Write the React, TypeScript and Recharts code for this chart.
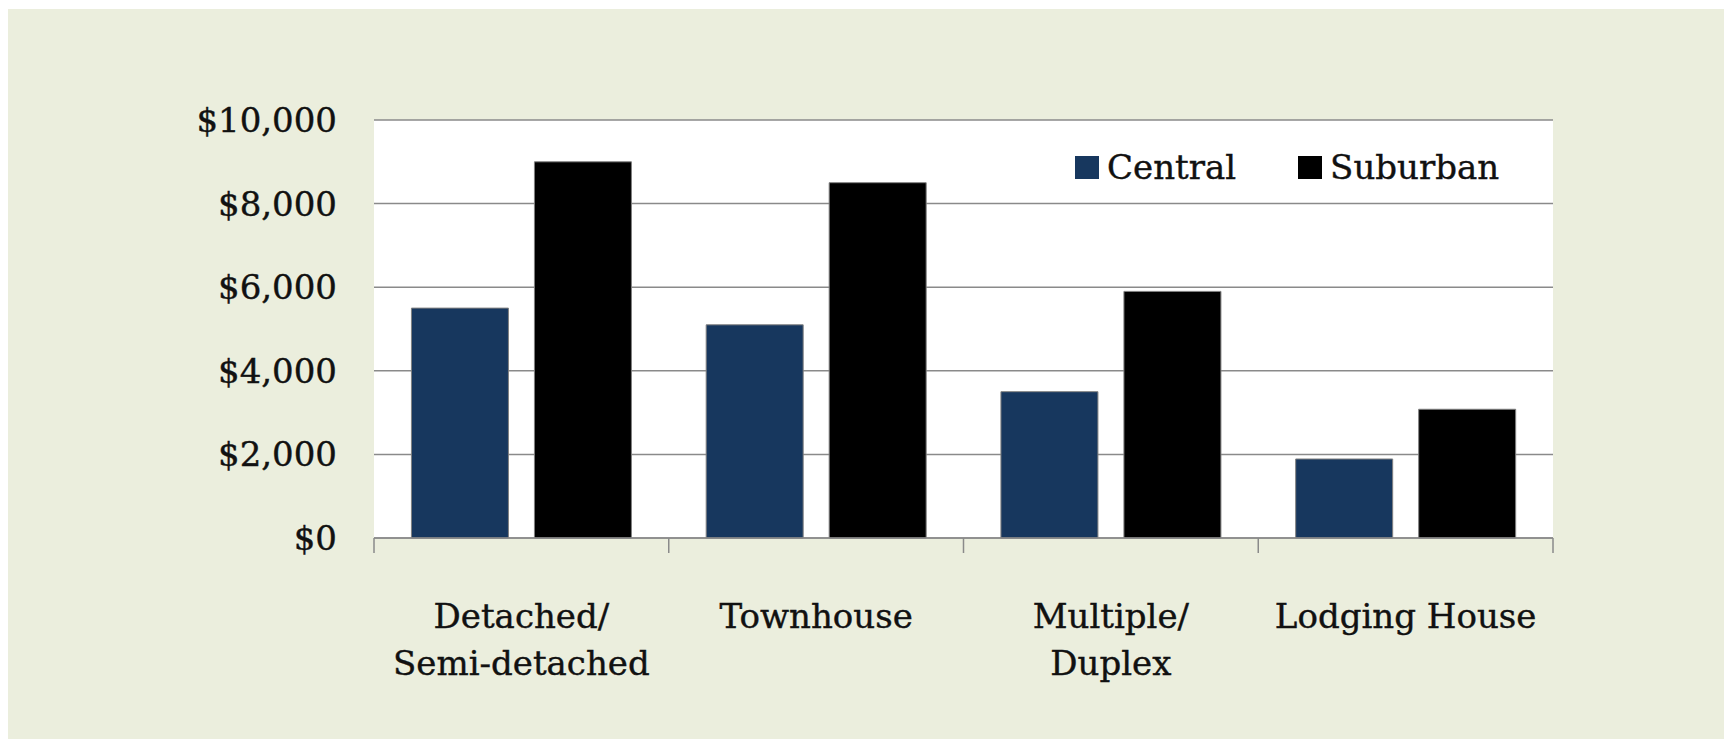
import React from 'react';
import { BarChart, Bar, XAxis, YAxis, CartesianGrid, Legend } from 'recharts';

// ---- data ----
const categories = ['Detached/\nSemi-detached', 'Townhouse', 'Multiple/\nDuplex', 'Lodging House'];
const centralValues = [5500, 5100, 3500, 1890];
const suburbanValues = [9000, 8500, 5900, 3080];
const yTicks = [0, 2000, 4000, 6000, 8000, 10000];
const seriesNames = ['Central', 'Suburban'];

const data = categories.map((c, i) => ({
  category: c,
  central: centralValues[i],
  suburban: suburbanValues[i],
}));

// ---- styles ----
const FONT = '"DejaVu Serif", serif';
const TEXT = '#111111';
const GRID = '#8a8a8a';
const BG = '#EBEEDD';
const CENTRAL = '#17375E';
const SUBURBAN = '#000000';

const PLOT_W = 1179;

const fmt = (v: number) => '$' + v.toLocaleString('en-US');

const CategoryTick = (props: any) => {
  const { x, y, payload, width, visibleTicksCount, index } = props;
  const count = visibleTicksCount || categories.length;
  const step = typeof width === 'number' && width > 0 ? width / count : PLOT_W / categories.length;
  const lines = String(payload.value).split('\n');
  return (
    <g>
      <line x1={x - step / 2} x2={x - step / 2} y1={y} y2={y + 15} stroke={GRID} strokeWidth={1.5} />
      {index === count - 1 && (
        <line x1={x + step / 2} x2={x + step / 2} y1={y} y2={y + 15} stroke={GRID} strokeWidth={1.5} />
      )}
      <text
        x={x}
        y={y + 90}
        textAnchor="middle"
        fontFamily={FONT}
        fontSize={34}
        fill={TEXT}
        stroke={TEXT}
        strokeWidth={0.4}
      >
        {lines.map((l, i) => (
          <tspan key={i} x={x} dy={i === 0 ? 0 : 47}>
            {l}
          </tspan>
        ))}
      </text>
    </g>
  );
};

const LegendContent = (props: any) => {
  const payload = props.payload || [];
  return (
    <div style={{ display: 'flex', flexDirection: 'row', alignItems: 'center' }}>
      {payload.map((p: any, i: number) => (
        <div
          key={i}
          style={{
            display: 'flex',
            alignItems: 'center',
            marginRight: i === 0 ? 62 : 0,
          }}
        >
          <span
            style={{
              display: 'inline-block',
              width: 24,
              height: 23,
              background: p.color,
              marginRight: 8,
            }}
          />
          <span
            style={{
              fontFamily: FONT,
              fontSize: 34,
              lineHeight: '34px',
              color: TEXT,
              whiteSpace: 'nowrap',
              WebkitTextStroke: '0.4px #111111',
            }}
          >
            {p.value}
          </span>
        </div>
      ))}
    </div>
  );
};

export default function App() {
  return (
    <div style={{ position: 'absolute', left: 0, top: 0, width: 1724, height: 739, background: '#ffffff', overflow: 'hidden' }}>
      <div style={{ position: 'absolute', left: 8, top: 9, width: 1716, height: 730, background: BG }}>
        <BarChart
          width={1716}
          height={730}
          data={data}
          margin={{ top: 111, right: 171, bottom: 0, left: 0 }}
          barCategoryGap="12.7%"
          barGap={26}
        >
          <CartesianGrid vertical={false} horizontal stroke={GRID} strokeWidth={1.5} fill="#ffffff" />
          <XAxis
            dataKey="category"
            height={201}
            interval={0}
            axisLine={{ stroke: GRID, strokeWidth: 1.5 }}
            tickLine={false}
            tickSize={0}
            tickMargin={0}
            tick={<CategoryTick />}
          />
          <YAxis
            width={366}
            domain={[0, 10000]}
            ticks={yTicks}
            interval={0}
            axisLine={false}
            tickLine={false}
            tickSize={0}
            tickMargin={37}
            tickFormatter={fmt}
            tick={{ fontFamily: FONT, fontSize: 34, fill: TEXT, stroke: TEXT, strokeWidth: 0.4 }}
          />
          <Legend
            layout="vertical"
            align="center"
            verticalAlign="middle"
            content={<LegendContent />}
            wrapperStyle={{ position: 'absolute', left: 1067, top: 141, width: 'auto', height: 'auto' }}
          />
          <Bar dataKey="central" name={seriesNames[0]} fill={CENTRAL} stroke="#808080" strokeWidth={1} isAnimationActive={false} />
          <Bar dataKey="suburban" name={seriesNames[1]} fill={SUBURBAN} stroke="#808080" strokeWidth={1} isAnimationActive={false} />
        </BarChart>
      </div>
    </div>
  );
}
